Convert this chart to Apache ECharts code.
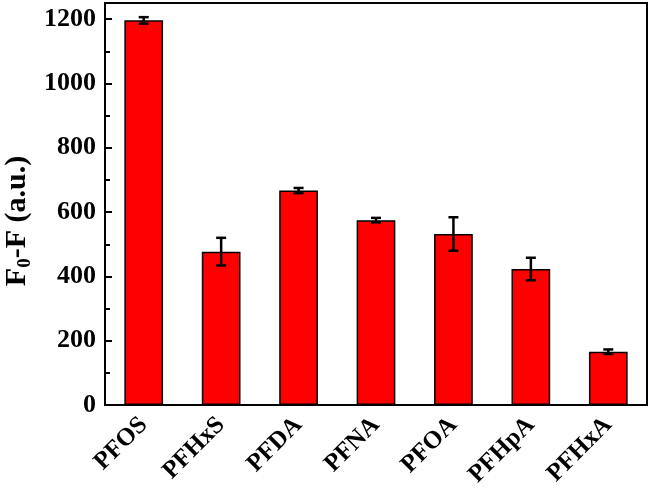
<!DOCTYPE html>
<html lang="en">
<head>
    <meta charset="UTF-8">
    <title>F0-F bar chart</title>
    <script src="https://cdn.jsdelivr.net/npm/echarts@6/dist/echarts.min.js"></script>
</head>
<body style="margin:0">
<div id="content" style="height: 490px;width: 650px"></div>
<script>
    // data
    var categories = ['PFOS', 'PFHxS', 'PFDA', 'PFNA', 'PFOA', 'PFHpA', 'PFHxA'];
    var values = [1196, 477, 667, 575, 532, 423, 166];
    var errors = [10, 43, 8, 7, 52, 35, 7];
    var yTicks = [0, 200, 400, 600, 800, 1000, 1200];

    var myChart = echarts.init(document.getElementById('content'));
    var serif = 'Times New Roman, Liberation Serif, serif';

    var errData = values.map(function (v, i) { return [i, v - errors[i], v + errors[i]]; });

    var option = {
        animation: false,
        grid: {
            left: 105, right: 3, top: 3, bottom: 84,
            show: true, borderColor: '#000', borderWidth: 2
        },
        // y axis title, F0 with subscript
        graphic: [{
            type: 'text',
            x: 17, y: 221,
            rotation: Math.PI / 2,
            style: {
                text: '{a|F}{s|0}{a|-F (a.u.)}',
                align: 'center', verticalAlign: 'middle',
                rich: {
                    a: { fontFamily: serif, fontWeight: 'bold', fontSize: 30, fill: '#000' },
                    s: { fontFamily: serif, fontWeight: 'bold', fontSize: 19, fill: '#000', verticalAlign: 'bottom', padding: [16, 0, 0, 0] }
                }
            }
        }],
        xAxis: {
            type: 'category',
            data: categories,
            axisLine: { lineStyle: { color: '#000', width: 2 } },
            axisTick: { show: false },
            axisLabel: {
                rotate: 45, margin: 16,
                color: '#000', fontFamily: serif, fontWeight: 'bold', fontSize: 25
            }
        },
        yAxis: {
            type: 'value',
            min: 0, max: 1250, interval: 200,
            splitLine: { show: false },
            axisLine: { show: true, lineStyle: { color: '#000', width: 2 } },
            axisTick: { show: true, inside: true, length: 7, lineStyle: { color: '#000', width: 2 } },
            minorTick: { show: true, splitNumber: 2, length: 5, lineStyle: { color: '#000', width: 2 } },
            axisLabel: {
                margin: 9,
                color: '#000', fontFamily: serif, fontWeight: 'bold', fontSize: 26,
                formatter: function (v) { return yTicks.indexOf(v) >= 0 ? String(v) : ''; }
            }
        },
        series: [
            {
                type: 'bar',
                data: values,
                barWidth: '50%',
                itemStyle: { color: '#ff0000', borderColor: '#000', borderWidth: 1.5 }
            },
            {
                type: 'custom',
                data: errData,
                z: 5,
                renderItem: function (params, api) {
                    var lo = api.coord([api.value(0), api.value(1)]);
                    var hi = api.coord([api.value(0), api.value(2)]);
                    var hw = 5;
                    var st = { stroke: '#000', lineWidth: 2.5, fill: null };
                    return {
                        type: 'group',
                        children: [
                            { type: 'line', shape: { x1: lo[0], y1: lo[1], x2: hi[0], y2: hi[1] }, style: st },
                            { type: 'line', shape: { x1: lo[0] - hw, y1: lo[1], x2: lo[0] + hw, y2: lo[1] }, style: st },
                            { type: 'line', shape: { x1: hi[0] - hw, y1: hi[1], x2: hi[0] + hw, y2: hi[1] }, style: st }
                        ]
                    };
                }
            }
        ]
    };
    myChart.setOption(option);
</script>
</body>
</html>
